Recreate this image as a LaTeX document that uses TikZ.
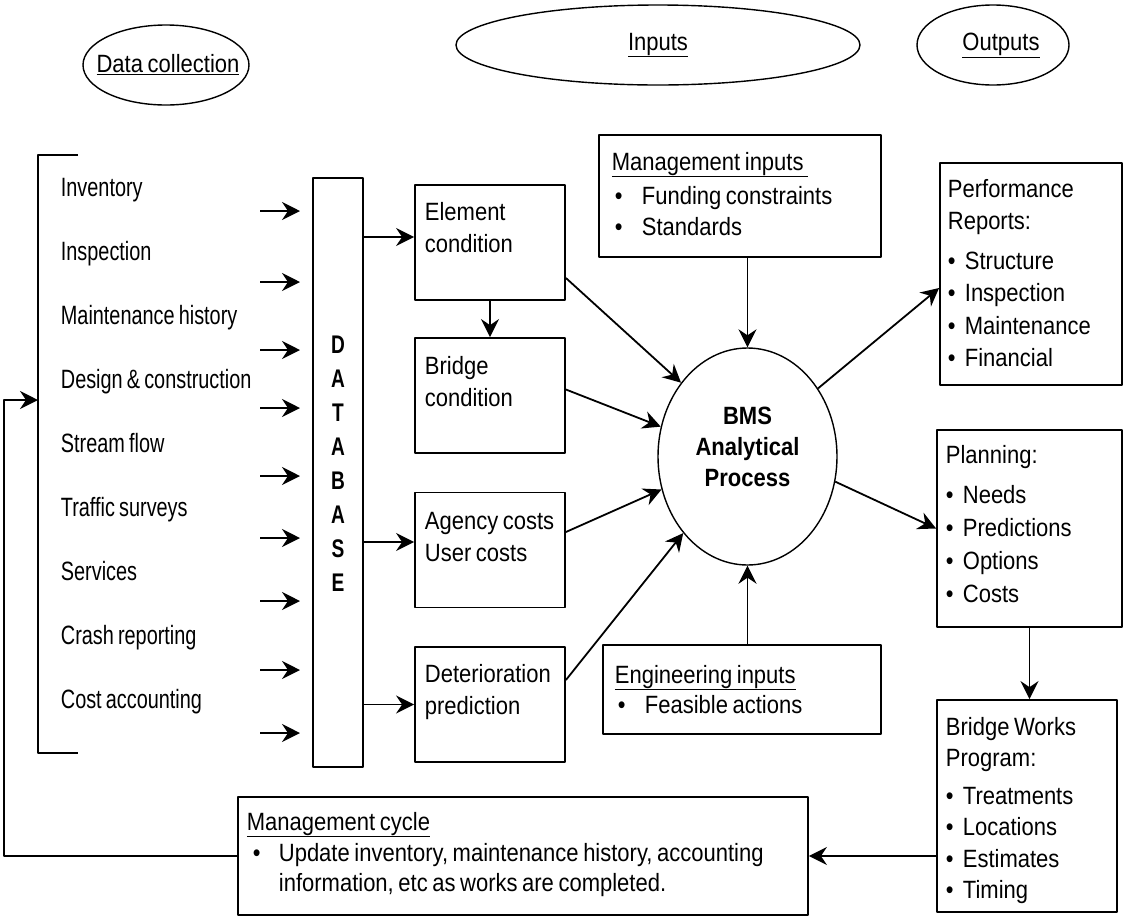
\documentclass[tikz,border=0pt]{standalone}
\usepackage{fontspec}
\setmainfont{Liberation Sans}[FakeStretch=0.88,WordSpace=0.75]
\newfontfamily\narrowfont{Liberation Sans}[FakeStretch=0.75,WordSpace=0.75]
\usetikzlibrary{arrows.meta,shapes.geometric}
\newcommand{\blt}[1][17pt]{\makebox[#1][l]{\textbullet}}
\begin{document}
\begin{tikzpicture}[x=1pt,y=-1pt,>={Stealth[length=18pt,width=18pt,inset=6pt]},line width=1.8pt,line join=round,font=\fontsize{25}{32}\selectfont,
	box/.style={draw,minimum width=150,minimum height=115,inner sep=0},
	txt/.style={anchor=base west,inner sep=0,text width=#1,align=left,execute at begin node={\spaceskip=0pt\xspaceskip=0pt}},
	txt/.default=175pt,
	oval/.style={line width=1.4pt}]
\useasboundingbox (0,0) rectangle (1127,919);
% headings
\draw[oval] (166,65) ellipse [x radius=83,y radius=40];
\draw[oval] (658,45) ellipse [x radius=202,y radius=40];
\draw[oval] (993,45) ellipse [x radius=76,y radius=40];
\node[inner sep=0] (datacoll) at (168,65) {\underline{Data collection}};
\node[inner sep=0] (inputs) at (658,45) {\underline{Inputs}};
\node[inner sep=0] (outputs) at (1001,45) {\underline{Outputs}};
% data collection list
\draw (78,155) -- (38,155) -- (38,753) -- (78,753);
\foreach \t [count=\i from 0] in {Inventory,Inspection,Maintenance history,Design \& construction,Stream flow,Traffic surveys,Services,Crash reporting,Cost accounting}
	\node[anchor=base west,inner sep=0,font=\narrowfont\fontsize{26.5}{30}\selectfont] (item\i) at (60,{196+64*\i}) {\t};
\foreach \y in {211,282,350,408,476,538,601,670,733}
	\draw[->] (260,\y) -- (300,\y);
% database
\node[box,minimum width=50,minimum height=589] (db) at (338,472.5) {};
\node[anchor=base,inner sep=0,text width=50pt,align=center,font=\narrowfont\bfseries\fontsize{25.5}{34}\selectfont] (dbtxt) at (338,353) {D\\A\\T\\A\\B\\A\\S\\E};
% condition and cost boxes
\node[box] (elem) at (490,242.5) {};
\node[txt] (elemtxt) at (424,220) {Element\\condition};
\node[box] (bridge) at (490,395.5) {};
\node[txt] (bridgetxt) at (424,374) {Bridge\\condition};
\node[box] (cost) at (490,550) {};
\node[txt] (costtxt) at (424,529) {Agency costs\\User costs};
\node[box] (deter) at (490,704.5) {};
\node[txt] (detertxt) at (424,682) {Deterioration\\prediction};
\coordinate (dbe) at ([yshift=5.5pt]elem.west);
\coordinate (dbc) at ([yshift=8pt]cost.west);
\draw[->] (dbe -| db.east) -- (dbe);
\draw[->] (dbc -| db.east) -- (dbc);
\draw[->] (deter.west -| db.east) -- (deter.west);
\draw[->] (elem.south) -- (bridge.north);
% analytical process
\node[draw,ellipse,line width=1.4pt,minimum width=179,minimum height=217,inner sep=0] (bms) at (747.5,456.5) {};
\node[anchor=base,inner sep=0,text width=170pt,align=center,font=\bfseries\fontsize{25}{31}\selectfont] (bmstxt) at (747.5,424) {BMS\\Analytical\\Process};
\node[box,minimum width=282,minimum height=122] (mgmt) at (740,196) {};
\node[txt=270pt,font=\fontsize{25}{31}\selectfont] (mgmttxt) at (611,170) {\underline{Management inputs\ }\\[3pt]\hspace*{3pt}\blt[27pt]Funding constraints\\\hspace*{3pt}\blt[27pt]Standards};
\node[box,minimum width=278,minimum height=89] (eng) at (742,689.5) {};
\node[txt=260pt,font=\fontsize{25}{30}\selectfont] (engtxt) at (614,683) {\underline{Engineering inputs}\\\hspace*{3pt}\blt[27pt]Feasible actions};
\draw[->] ([yshift=-35.5pt]elem.east) -- (bms.132);
\draw[->] ([yshift=6pt]bridge.east) -- (bms.161);
\draw[->] ([yshift=18pt]cost.east) -- (bms.201);
\draw[->] ([yshift=24.5pt]deter.east) -- (bms.230);
\draw[->] (bms.north |- mgmt.south) -- (bms.north);
\draw[->] (bms.south |- eng.north) -- (bms.south);
% outputs
\node[box,minimum width=182,minimum height=222] (perf) at (1031,274) {};
\node[txt,font=\fontsize{25}{32.5}\selectfont] (perftxt) at (947,197) {Performance\\Reports:\\[7pt]\blt Structure\\\blt Inspection\\\blt Maintenance\\\blt Financial};
\node[box,minimum width=185,minimum height=197] (plan) at (1029.5,528.5) {};
\node[txt,font=\fontsize{25}{33}\selectfont] (plantxt) at (945,463) {Planning:\\[7pt]\blt Needs\\\blt Predictions\\\blt Options\\\blt Costs};
\node[box,minimum width=180,minimum height=212] (bw) at (1027,806) {};
\node[txt,font=\fontsize{25}{31.5}\selectfont] (bwtxt) at (945,735) {Bridge Works\\Program:\\[6pt]\blt Treatments\\\blt Locations\\\blt Estimates\\\blt Timing};
\draw[->] (bms.44) -- ([yshift=-14pt]perf.west);
\draw[->] (bms.-16) -- (plan.west);
\draw[->] (plan.south) -- (plan.south |- bw.north);
% management cycle
\node[box,minimum width=570,minimum height=118] (mcycle) at (523,856) {};
\node[txt=560pt,font=\fontsize{25}{30}\selectfont] (mcycletxt) at (246,830) {\underline{Management cycle}\\[1pt]\hspace*{6pt}\blt[26pt]Update inventory, maintenance history, accounting\\\hspace*{32pt}information, etc as works are completed.};
\draw[->] (bw.west |- mcycle.east) -- (mcycle.east);
\coordinate (fbend) at (38,400);
\draw[->] (mcycle.west) -| (4,400) -- (fbend);
\end{tikzpicture}
\end{document}
